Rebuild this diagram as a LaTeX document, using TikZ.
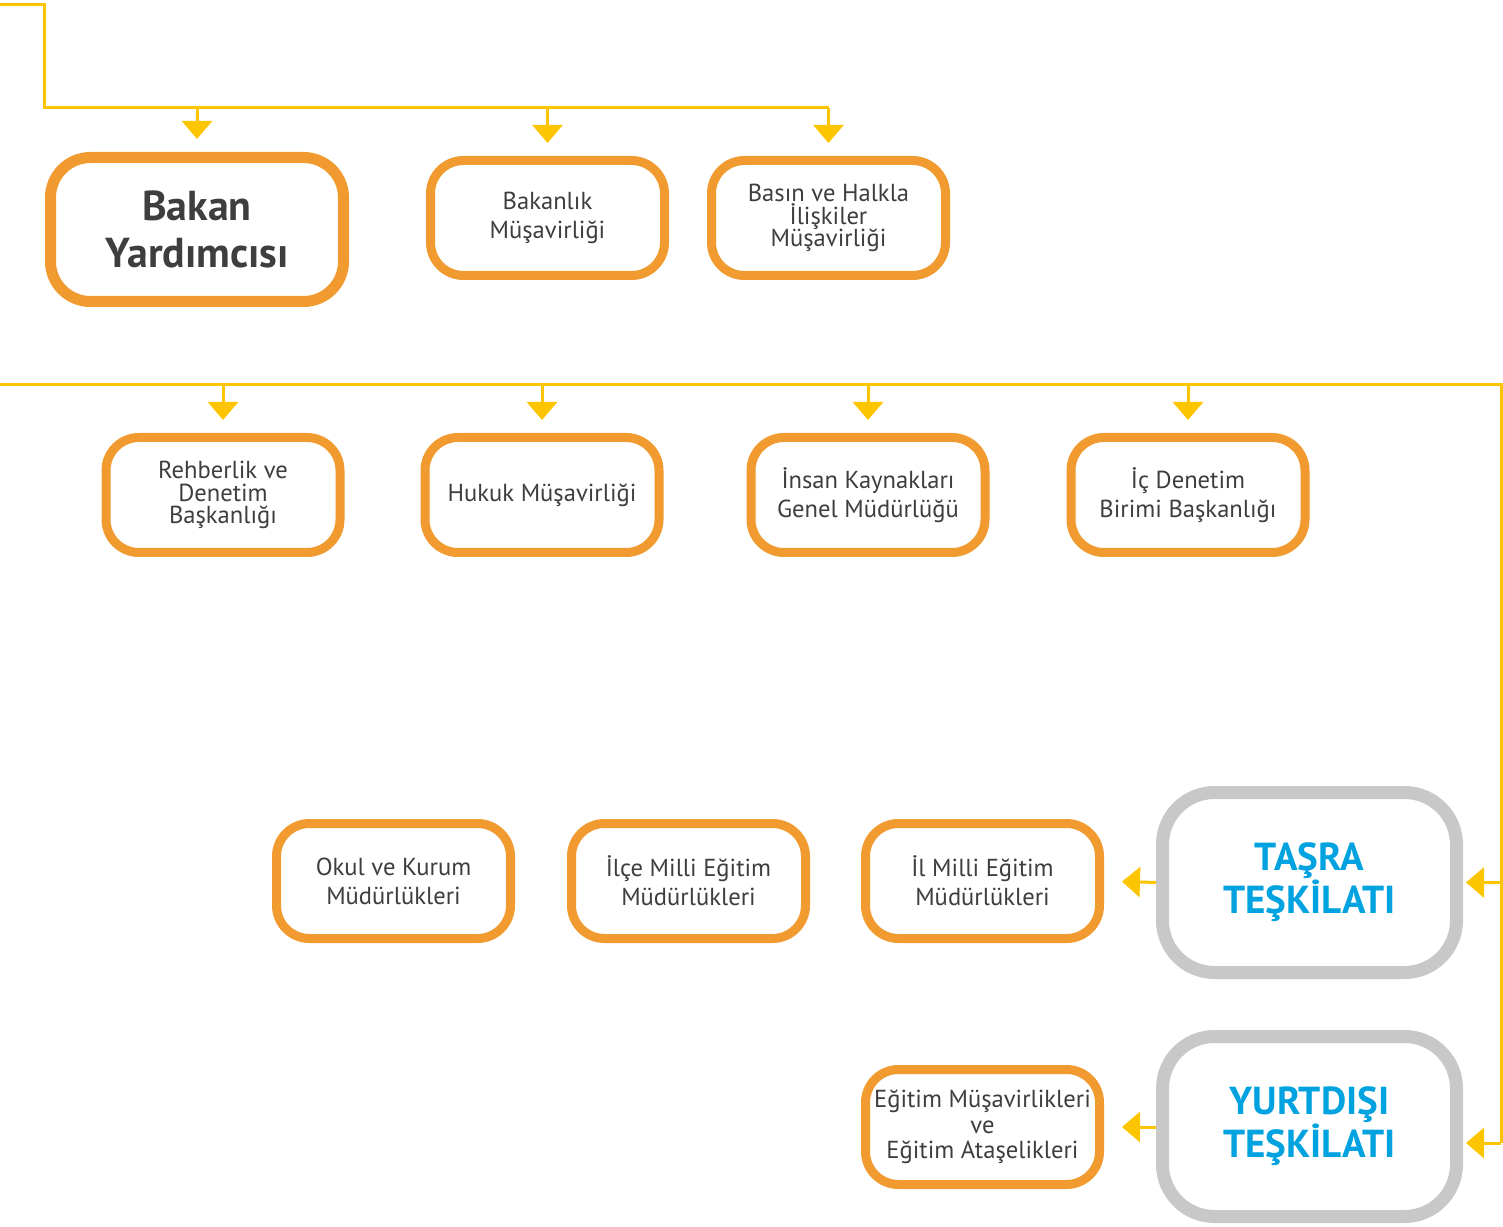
\documentclass[tikz,border=0pt]{standalone}
\usepackage{fontspec}
\setmainfont{PT Sans}
\usepackage{tikz}
\usetikzlibrary{arrows.meta}
\definecolor{boxorange}{HTML}{F19A2F}
\definecolor{boxgray}{HTML}{C8C8C8}
\definecolor{linkyellow}{HTML}{FDC400}
\definecolor{textgray}{HTML}{3E3E3E}
\definecolor{orgblue}{HTML}{00A2E0}
\newcommand{\picw}{15.03}
\newcommand{\pich}{12.27}
\newcommand{\rowa}{-2.18}
\newcommand{\rowb}{-4.95}
\newcommand{\rowc}{-8.81}
\newcommand{\rowd}{-11.27}
\newcommand{\topbus}{-1.08}
\newcommand{\midbus}{-3.85}
\newcommand{\rightbus}{15.01}
\newcommand{\snuglines}{\lineskiplimit=-6pt\relax\lineskip=0pt\relax}
\tikzset{
  unitbox/.style={draw=boxorange, line width=0.09cm, rounded corners=0.33cm,
    minimum width=2.34cm, minimum height=1.15cm, inner sep=0pt, fill=white,
    align=center, text=textgray, font=\fontsize{7}{8.2}\selectfont},
  tightbox/.style={unitbox,
    font=\fontsize{7}{6.4}\selectfont\snuglines},
  mainbox/.style={unitbox, line width=0.11cm, rounded corners=0.4cm,
    minimum width=2.93cm, minimum height=1.44cm,
    font=\bfseries\fontsize{11.9}{13.3}\selectfont},
  orgbox/.style={draw=boxgray, line width=0.13cm, rounded corners=0.52cm,
    minimum width=2.94cm, minimum height=1.80cm, inner sep=0pt, fill=white,
    align=center, text=orgblue, font=\bfseries\fontsize{11.1}{12.2}\selectfont},
  link/.style={draw=linkyellow, line width=0.03cm},
  feed/.style={link, -{Triangle[width=0.3cm,length=0.18cm]}, shorten >=0.13cm},
}
\begin{document}
\begin{tikzpicture}
  \useasboundingbox (0,0) rectangle (\picw,-\pich);

  % top row
  \node[mainbox] (yardimci) at (1.97,-2.295) {Bakan\\Yardımcısı};
  \node[unitbox] (musavir) at (5.475,\rowa) {Bakanlık\\Müşavirliği};
  \node[tightbox] (basin) at (8.285,\rowa) {Basın ve Halkla\\İlişkiler\\Müşavirliği};

  % second row
  \node[tightbox] (rehber) at (2.23,\rowb) {Rehberlik ve\\Denetim\\Başkanlığı};
  \node[unitbox] (hukuk) at (5.42,\rowb) {Hukuk Müşavirliği};
  \node[unitbox] (insan) at (8.68,\rowb) {İnsan Kaynakları\\Genel Müdürlüğü};
  \node[unitbox] (icdenetim) at (11.88,\rowb) {İç Denetim\\Birimi Başkanlığı};

  % tasra
  \node[orgbox] (tasra) at (13.095,-8.825) {TAŞRA\\TEŞKİLATI};
  \node[unitbox] (il) at (9.825,\rowc) {İl Milli Eğitim\\Müdürlükleri};
  \node[unitbox] (ilce) at (6.885,\rowc) {İlçe Milli Eğitim\\Müdürlükleri};
  \node[unitbox] (okul) at (3.935,\rowc) {Okul ve Kurum\\Müdürlükleri};

  % yurtdisi
  \node[orgbox] (yurtdisi) at (13.095,-11.265) {YURTDIŞI\\TEŞKİLATI};
  \node[unitbox, font=\fontsize{7}{7.3}\selectfont\snuglines] (atase)
    at (9.825,\rowd) {Eğitim Müşavirlikleri\\ve\\Eğitim Ataşelikleri};

  % upper bus
  \coordinate (topin) at (0,-0.05);
  \coordinate (topend) at (8.29,\topbus);
  \draw[link] (topin) -| (0.45,\topbus) -- (topend);
  \foreach \unit in {yardimci,musavir,basin}
    \draw[feed] (\unit.north |- topend) -- (\unit.north);

  % lower bus
  \coordinate (midin) at (0,\midbus);
  \coordinate (midturn) at (\rightbus,\midbus);
  \coordinate (midend) at (\rightbus,-11.43);
  \draw[link] (midin) -- (midturn) -- (midend);
  \foreach \unit in {rehber,hukuk,insan,icdenetim}
    \draw[feed] (\unit.north |- midin) -- (\unit.north);

  % to the organisations
  \draw[feed, shorten >=0.03cm] (midturn |- tasra.east) -- (tasra.east);
  \draw[feed, shorten >=0.03cm] (midend) -- (midend -| yurtdisi.east);
  \draw[feed, shorten >=0.18cm] (tasra.west) -- (il.east);
  \draw[feed, shorten >=0.18cm] (yurtdisi.west |- atase.east) -- (atase.east);
\end{tikzpicture}
\end{document}
